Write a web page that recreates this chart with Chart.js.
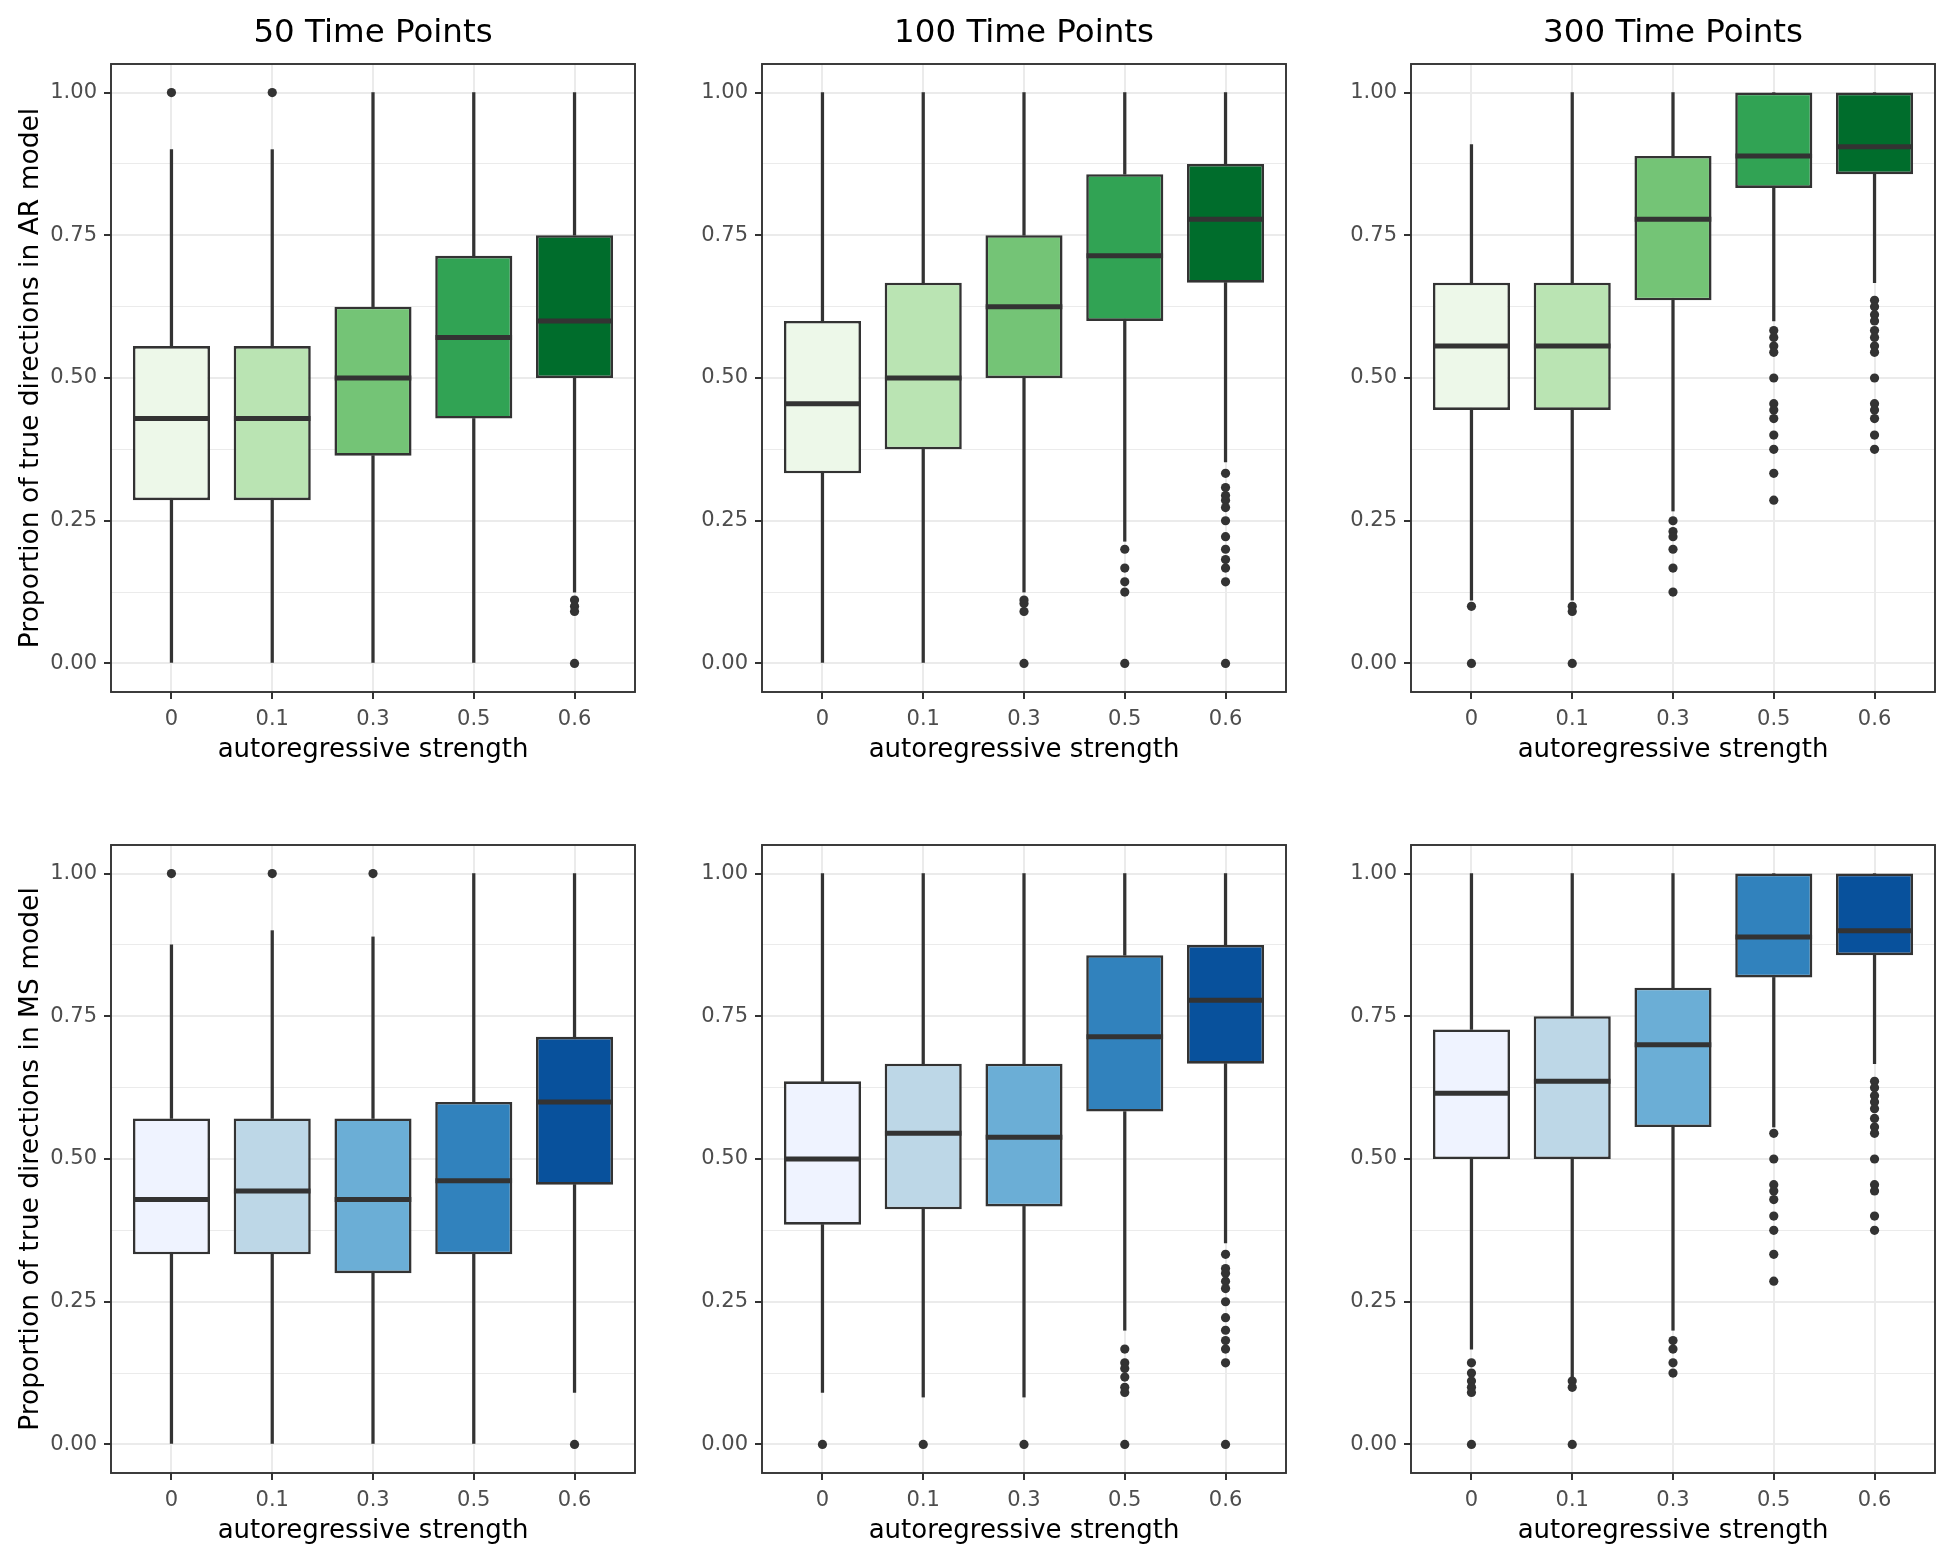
<!DOCTYPE html>
<html>
<head>
<meta charset="utf-8">
<script src="https://cdn.jsdelivr.net/npm/chart.js@4.4.0/dist/chart.umd.min.js"></script>
<style>
html,body{margin:0;padding:0;background:#ffffff;}
body{width:1944px;height:1551px;position:relative;overflow:hidden;}
canvas{position:absolute;}
</style>
</head>
<body>
<script>
// ---------- data ----------
const categories = ['0','0.1','0.3','0.5','0.6'];
const xPositions = [1,2,3,4,5];
const panelTitles = ['50 Time Points','100 Time Points','300 Time Points'];
const yAxisTitles = ['Proportion of true directions in AR model','Proportion of true directions in MS model'];
const xAxisTitle = 'autoregressive strength';
const yTickValues = [0,0.25,0.5,0.75,1];
const yTickLabels = ['0.00','0.25','0.50','0.75','1.00'];
const yMinorValues = [0.125,0.375,0.625,0.875];
const greens = ['#EDF8E9','#BAE4B3','#74C476','#31A354','#006D2C'];
const blues  = ['#EFF3FF','#BDD7E7','#6BAED6','#3182BD','#08519C'];

// each row: [lower whisker, Q1, median, Q3, upper whisker]
const ar50Box  = [[0,0.286,0.429,0.556,0.9],[0,0.286,0.429,0.556,0.9],[0,0.364,0.5,0.625,1],[0,0.429,0.571,0.714,1],[0.125,0.5,0.6,0.75,1]];
const ar50Out  = [[1],[1],[],[],[0.111,0.1,0.091,0]];
const ar100Box = [[0,0.333,0.455,0.6,1],[0,0.375,0.5,0.667,1],[0.125,0.5,0.625,0.75,1],[0.214,0.6,0.714,0.857,1],[0.353,0.667,0.778,0.875,1]];
const ar100Out = [[],[],[0.111,0.105,0.091,0],[0.2,0.167,0.143,0.125,0],[0.333,0.308,0.294,0.286,0.273,0.25,0.222,0.2,0.182,0.167,0.143,0]];
const ar300Box = [[0.111,0.444,0.556,0.667,0.909],[0.111,0.444,0.556,0.667,1],[0.267,0.636,0.778,0.889,1],[0.6,0.833,0.889,1,1],[0.667,0.857,0.905,1,1]];
const ar300Out = [[0.1,0],[0.1,0.091,0],[0.25,0.231,0.222,0.2,0.167,0.125],[0.583,0.571,0.556,0.545,0.5,0.455,0.444,0.429,0.4,0.375,0.333,0.286],[0.636,0.625,0.611,0.6,0.583,0.571,0.556,0.545,0.5,0.455,0.444,0.429,0.4,0.375]];
const ms50Box  = [[0,0.333,0.429,0.571,0.875],[0,0.333,0.444,0.571,0.9],[0,0.3,0.429,0.571,0.889],[0,0.333,0.462,0.6,1],[0.091,0.455,0.6,0.714,1]];
const ms50Out  = [[1],[1],[1],[],[0]];
const ms100Box = [[0.091,0.385,0.5,0.636,1],[0.083,0.412,0.545,0.667,1],[0.083,0.417,0.538,0.667,1],[0.2,0.583,0.714,0.857,1],[0.353,0.667,0.778,0.875,1]];
const ms100Out = [[0],[0],[0],[0.167,0.143,0.133,0.118,0.1,0.091,0],[0.333,0.308,0.3,0.286,0.273,0.25,0.222,0.2,0.182,0.167,0.143,0]];
const ms300Box = [[0.167,0.5,0.615,0.727,1],[0.118,0.5,0.636,0.75,1],[0.2,0.556,0.7,0.8,1],[0.556,0.818,0.889,1,1],[0.667,0.857,0.9,1,1]];
const ms300Out = [[0.143,0.125,0.111,0.1,0.091,0],[0.111,0.1,0],[0.182,0.167,0.143,0.125],[0.545,0.5,0.455,0.444,0.429,0.4,0.375,0.333,0.286],[0.636,0.625,0.611,0.6,0.588,0.571,0.556,0.545,0.5,0.455,0.444,0.4,0.375]];

// ---------- layout ----------
const FONT = 'DejaVu Sans';
const canvasLefts = [0, 651, 1300];
const canvasTops = [0, 781];
const CW = 643, CH = 780;
const INK = '#333333';

Chart.defaults.font.family = FONT;

const panelBorder = {
  id: 'panelBorder',
  afterDraw(chart) {
    const {ctx, chartArea: a} = chart;
    ctx.save();
    ctx.strokeStyle = INK;
    ctx.lineWidth = 1.9;
    ctx.strokeRect(a.left, a.top, a.right - a.left, a.bottom - a.top);
    ctx.restore();
  }
};

const panels = [
  {box: ar50Box,  out: ar50Out,  colors: greens, col: 0, row: 0},
  {box: ar100Box, out: ar100Out, colors: greens, col: 1, row: 0},
  {box: ar300Box, out: ar300Out, colors: greens, col: 2, row: 0},
  {box: ms50Box,  out: ms50Out,  colors: blues,  col: 0, row: 1},
  {box: ms100Box, out: ms100Out, colors: blues,  col: 1, row: 1},
  {box: ms300Box, out: ms300Out, colors: blues,  col: 2, row: 1}
];

const isMajor = v => yTickValues.indexOf(v) >= 0;
const yGridValues = yTickValues.concat(yMinorValues).sort((a,b)=>a-b);

function makePanel(p) {
  const cv = document.createElement('canvas');
  cv.width = CW; cv.height = CH;
  cv.style.left = canvasLefts[p.col] + 'px';
  cv.style.top = canvasTops[p.row] + 'px';
  cv.style.width = CW + 'px'; cv.style.height = CH + 'px';
  document.body.appendChild(cv);

  const boxData = xPositions.map((x,i) => ({x: x, y: [p.box[i][1], p.box[i][3]]}));
  const loData  = xPositions.map((x,i) => ({x: x, y: [p.box[i][0], p.box[i][1]]}));
  const hiData  = xPositions.map((x,i) => ({x: x, y: [p.box[i][3], p.box[i][4]]}));
  const medData = xPositions.map((x,i) => ({x: x, y: p.box[i][2]}));
  const outData = [];
  p.out.forEach((arr,i) => arr.forEach(v => outData.push({x: xPositions[i], y: v})));

  new Chart(cv, {
    type: 'bar',
    data: {
      datasets: [
        {type:'bar', data: loData, grouped:false, barThickness:2.6, backgroundColor: INK, borderWidth:0, order:3},
        {type:'bar', data: hiData, grouped:false, barThickness:2.6, backgroundColor: INK, borderWidth:0, order:3},
        {type:'bar', data: boxData, grouped:false, categoryPercentage:1, barPercentage:0.765,
         backgroundColor: p.colors, borderColor: INK, borderWidth:2.6, borderSkipped:false, order:2},
        {type:'scatter', data: medData, pointStyle:'line', pointBorderColor: INK, pointBorderWidth:5,
         pointRadius: ctx => { const s = ctx.chart.scales.x; return Math.abs(s.getPixelForValue(1.38) - s.getPixelForValue(1)); },
         pointHoverRadius: 0, order:1},
        {type:'scatter', data: outData, pointStyle:'circle', pointRadius:4.6, pointBackgroundColor: INK,
         pointBorderWidth:0, pointHoverRadius:4.6, order:0}
      ]
    },
    options: {
      responsive: false,
      animation: false,
      events: [],
      layout: {padding: {left:0, right:8, top: p.row === 0 ? 0 : 64, bottom:0}},
      plugins: {
        legend: {display:false},
        tooltip: {enabled:false},
        title: {display: p.row === 0, fullSize: false, text: panelTitles[p.col], color:'#000000',
                font: {family: FONT, size:32.5, weight:'normal'}, padding: {top:13.6, bottom:11.4}}
      },
      scales: {
        x: {
          type: 'linear', min: 0.4, max: 5.6, offset: false,
          afterBuildTicks: s => { s.ticks = xPositions.map(v => ({value: v})); },
          afterFit: s => { s.height = 88; },
          ticks: {autoSkip:false, maxRotation:0, padding:8, color:'#4D4D4D',
                  font:{family:FONT, size:21}, callback: v => categories[xPositions.indexOf(v)]},
          grid: {offset:false, color:'#EBEBEB', lineWidth:2, drawTicks:true, tickLength:7, tickWidth:2, tickColor: INK},
          border: {display:false},
          title: {display:true, text: xAxisTitle, color:'#000000', font:{family:FONT, size:26},
                  padding:{top:0, bottom:14}}
        },
        y: {
          type: 'linear', min: -0.05, max: 1.05,
          afterBuildTicks: s => { s.ticks = yGridValues.map(v => ({value: v})); },
          afterFit: s => { s.width = 111; },
          ticks: {autoSkip:false, padding:7, color:'#4D4D4D', font:{family:FONT, size:21},
                  callback: v => { const k = yTickValues.indexOf(v); return k >= 0 ? yTickLabels[k] : ''; }},
          grid: {color:'#EBEBEB', drawTicks:true, tickLength:7, tickWidth:2,
                 lineWidth: ctx => (ctx.tick && isMajor(ctx.tick.value)) ? 2 : 1,
                 tickColor: ctx => (ctx.tick && isMajor(ctx.tick.value)) ? INK : 'rgba(0,0,0,0)'},
          border: {display:false},
          title: {display: p.col === 0, text: yAxisTitles[p.row], color:'#000000',
                  font:{family:FONT, size:26.5}, padding:{top:15, bottom:0}}
        }
      }
    },
    plugins: [panelBorder]
  });
}

panels.forEach(makePanel);
</script>
</body>
</html>
